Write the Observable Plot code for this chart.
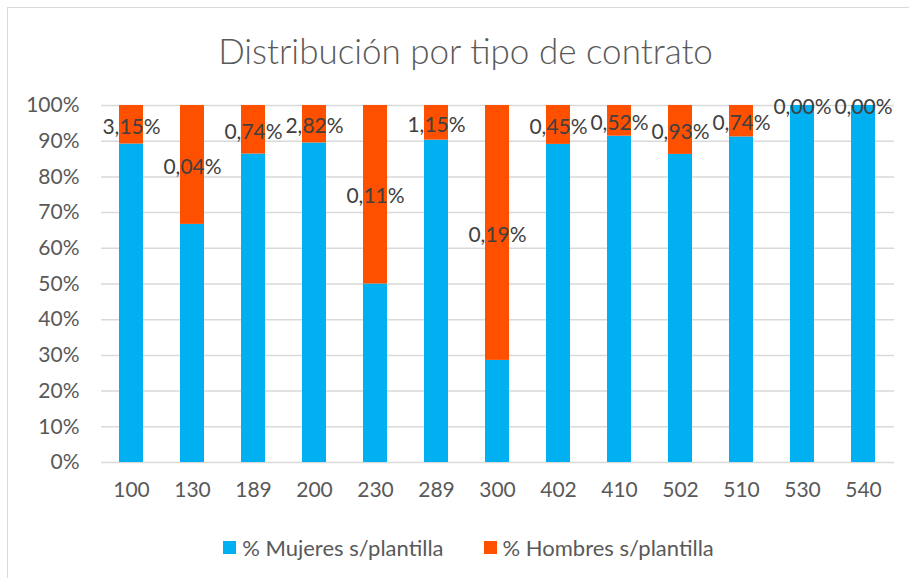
<!DOCTYPE html>
<html>
<head>
<meta charset="utf-8">
<script src="https://cdn.jsdelivr.net/npm/d3@7"></script>
<script src="https://cdn.jsdelivr.net/npm/@observablehq/plot@0.6"></script>
<style>
  html, body { margin: 0; padding: 0; background: #fff; }
  #frame { position: absolute; left: 7px; top: 7px; width: 920px; height: 600px; border: 1px solid #d9d9d9; box-sizing: border-box; }
  #chart { position: absolute; left: 0; top: 0; width: 909px; height: 578px; font-family: Lato, "Open Sans", sans-serif; color: #595959; }
  #title { position: absolute; left: 11px; top: 25px; width: 909px; text-align: center; font-size: 35px; font-weight: 300; line-height: 50px; color: #595959; }
  #plot { position: absolute; left: 0; top: 85px; }
  #legend { position: absolute; left: 14px; top: 534px; width: 909px; display: flex; justify-content: center; gap: 40px; font-size: 22px; color: #595959; }
  .item { display: flex; align-items: center; gap: 6px; }
  .sw { width: 13px; height: 13px; display: inline-block; }
</style>
</head>
<body>
<div id="frame"></div>
<div id="chart">
  <div id="title">Distribución por tipo de contrato</div>
  <div id="plot"></div>
  <div id="legend"></div>
</div>
<script>
const categories = ["100","130","189","200","230","289","300","402","410","502","510","530","540"];
const mujeres = [89.2, 66.7, 86.4, 89.5, 50.0, 90.3, 28.6, 89.1, 91.4, 86.3, 91.2, 100, 100];
const hombres = [10.8, 33.3, 13.6, 10.5, 50.0, 9.7, 71.4, 10.9, 8.6, 13.7, 8.8, 0, 0];
const etiquetas = [3.15, 0.04, 0.74, 2.82, 0.11, 1.15, 0.19, 0.45, 0.52, 0.93, 0.74, 0.00, 0.00];
const seriesNames = ["% Mujeres s/plantilla", "% Hombres s/plantilla"];
const seriesColors = ["#00B0F0", "#FF5000"];
const yTicks = [0,10,20,30,40,50,60,70,80,90,100];

const rows = [];
categories.forEach((c, i) => {
  rows.push({cat: c, serie: seriesNames[0], value: mujeres[i]});
  rows.push({cat: c, serie: seriesNames[1], value: hombres[i]});
});
const labelRows = categories.map((c, i) => ({
  cat: c,
  y: mujeres[i] + hombres[i] / 2,
  text: etiquetas[i].toFixed(2).replace(".", ",") + "%"
}));

const plot = Plot.plot({
  width: 909,
  height: 430,
  marginLeft: 101,
  marginRight: 15,
  marginTop: 20,
  marginBottom: 53,
  style: { fontFamily: "Lato, 'Open Sans', sans-serif", fontSize: "21px", color: "#595959", background: "transparent" },
  x: { domain: categories, paddingInner: 0.6, paddingOuter: 0.3, label: null, tickSize: 0, tickPadding: 20 },
  y: { domain: [0, 100], label: null, ticks: yTicks, tickSize: 0, tickPadding: 22, tickFormat: d => d + "%" },
  color: { domain: seriesNames, range: seriesColors },
  marks: [
    Plot.ruleY(yTicks, { stroke: "#d9d9d9", strokeWidth: 1.5 }),
    Plot.barY(rows, { x: "cat", y: "value", fill: "serie", order: seriesNames }),
    Plot.text(labelRows, { x: "cat", y: "y", dy: 2, text: "text", fill: "#404040", fontSize: 21 })
  ]
});
document.getElementById("plot").appendChild(plot);

const legend = document.getElementById("legend");
seriesNames.forEach((n, i) => {
  const it = document.createElement("div");
  it.className = "item";
  const sw = document.createElement("span");
  sw.className = "sw";
  sw.style.background = seriesColors[i];
  const t = document.createElement("span");
  t.textContent = n;
  it.appendChild(sw); it.appendChild(t);
  legend.appendChild(it);
});
</script>
</body>
</html>
